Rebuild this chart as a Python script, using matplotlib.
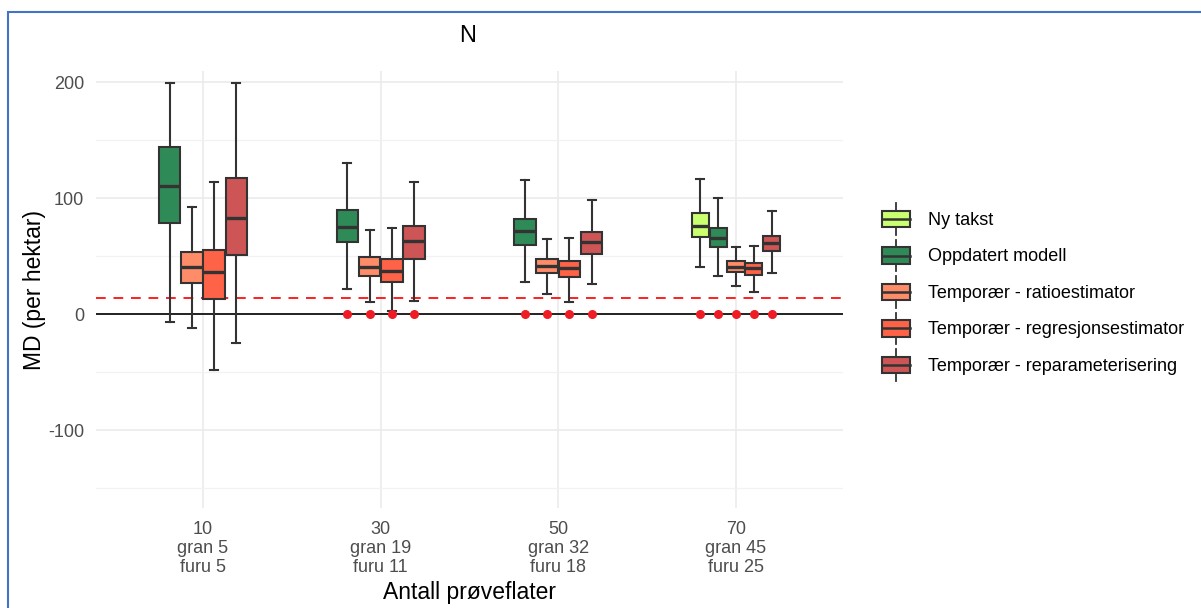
import matplotlib.pyplot as plt
from matplotlib.patches import Rectangle
from matplotlib.lines import Line2D
from matplotlib.legend_handler import HandlerBase

plt.rcParams['font.family'] = ['Liberation Sans', 'DejaVu Sans']
plt.rcParams['axes.unicode_minus'] = False

# x categories
groups = ["10\ngran 5\nfuru 5", "30\ngran 19\nfuru 11",
          "50\ngran 32\nfuru 18", "70\ngran 45\nfuru 25"]

series_names = ["Ny takst", "Oppdatert modell", "Temporær - ratioestimator",
                "Temporær - regresjonsestimator", "Temporær - reparameterisering"]
series_colors = ["#CAFF70", "#2E8B57", "#FF8C69", "#FF6347", "#CD5555"]

# per group: [lower whisker, q1, median, q3, upper whisker]
ny_takst = [None, None, None, [40.5, 66.7, 76.1, 86.8, 116.1]]
oppdatert = [[-6.6, 78.7, 110.3, 143.7, 199.0], [22.1, 62.0, 75.3, 89.4, 129.9],
             [27.9, 60.0, 71.6, 82.2, 115.5], [32.8, 57.5, 65.8, 74.4, 99.7]]
ratio = [[-12.0, 27.0, 40.5, 53.2, 92.5], [10.3, 32.5, 40.8, 49.4, 72.1],
         [17.8, 35.3, 41.4, 47.1, 64.7], [24.1, 35.9, 40.8, 45.7, 58.0]]
regresjon = [[-47.7, 13.2, 36.2, 55.2, 113.8], [3.0, 27.9, 37.1, 47.1, 74.1],
             [10.3, 31.9, 39.7, 46.0, 65.5], [19.5, 33.6, 40.0, 44.0, 58.6]]
reparam = [[-24.7, 51.4, 82.8, 117.0, 199.4], [11.5, 47.1, 62.9, 76.1, 113.8],
           [25.9, 51.7, 61.8, 70.7, 98.3], [35.3, 54.3, 61.2, 67.5, 88.8]]
all_series = [ny_takst, oppdatert, ratio, regresjon, reparam]

# red points at zero shown for these groups
zero_points = [False, True, True, True]
zero_value = 0
ref_line = 13.5

EDGE = "#333333"


class BoxHandler(HandlerBase):
    def create_artists(self, legend, orig_handle, xdescent, ydescent,
                       width, height, fontsize, trans):
        x0, y0 = -xdescent, -ydescent
        cx = x0 + width / 2
        bh = height * 0.52
        by = y0 + (height - bh) / 2
        wl = Line2D([cx, cx], [y0, y0 + height], color=EDGE, lw=1.3, transform=trans)
        box = Rectangle((x0, by), width, bh, facecolor=orig_handle, edgecolor=EDGE,
                        lw=1.5, transform=trans)
        med = Line2D([x0, x0 + width], [by + bh / 2] * 2, color=EDGE, lw=1.8,
                     transform=trans)
        return [wl, box, med]


fig = plt.figure(figsize=(12.01, 6.08), dpi=100)
ax = fig.add_axes([96.4 / 1201, 1 - 508 / 608, 746.2 / 1201, 437 / 608])

total_w = 0.5
for gi in range(len(groups)):
    present = [si for si, s in enumerate(all_series) if s[gi] is not None]
    n = len(present)
    w = total_w / n
    for k, si in enumerate(present):
        lo, q1, med, q3, hi = all_series[si][gi]
        pos = gi + 1 + (k - (n - 1) / 2) * w
        stats = [dict(whislo=lo, q1=q1, med=med, q3=q3, whishi=hi, fliers=[])]
        ax.bxp(stats, positions=[pos], widths=w * 0.97, patch_artist=True,
               capwidths=0.045, showfliers=False, manage_ticks=False,
               boxprops=dict(facecolor=series_colors[si], edgecolor=EDGE, lw=1.5),
               medianprops=dict(color=EDGE, lw=2.4),
               whiskerprops=dict(color=EDGE, lw=1.5),
               capprops=dict(color=EDGE, lw=1.5), zorder=3)
        if zero_points[gi]:
            ax.plot(pos, zero_value, 'o', color="#EE1C25", ms=6.5, mec='none', zorder=5)

ax.axhline(0, color='black', lw=1.2, zorder=2)
ax.axhline(ref_line, color='#FF1F1F', lw=1.4, ls=(0, (5, 4)), zorder=2)

ax.set_xlim(0.4, 4.6)
ax.set_ylim(-167, 209.5)
ax.set_xticks(range(1, len(groups) + 1))
ax.set_xticklabels(groups, linespacing=1.16)
ax.set_yticks([-100, 0, 100, 200])
ax.set_yticks([-150, -50, 50, 150], minor=True)
ax.grid(True, which='major', color='#EBEBEB', lw=1.2, zorder=0)
ax.grid(True, which='minor', axis='y', color='#F2F2F2', lw=0.9, zorder=0)
ax.set_axisbelow(True)
for sp in ax.spines.values():
    sp.set_visible(False)
ax.tick_params(axis='both', which='both', length=0, labelsize=13, labelcolor='#4D4D4D')
ax.tick_params(axis='x', pad=9)
ax.tick_params(axis='y', pad=9)

ax.set_xlabel("Antall prøveflater", fontsize=16.5)
ax.set_ylabel("MD (per hektar)", fontsize=16.5)
ax.xaxis.set_label_coords(0.5, (508 - 592) / 437)
ax.xaxis.label.set_va('center')
ax.yaxis.set_label_coords((35 - 96.4) / 746.2, 0.5)
ax.yaxis.label.set_va('center')

fig.text(468 / 1201, 1 - 36 / 608, "N", fontsize=17, ha='center', va='center')

leg = fig.legend(series_colors, series_names, handler_map={str: BoxHandler()},
                 loc='center left', bbox_to_anchor=(882 / 1201, 1 - 292 / 608),
                 frameon=False, fontsize=13, borderpad=0, borderaxespad=0,
                 handlelength=1.55, handleheight=2.3, handletextpad=1.0,
                 labelspacing=0.28)

# screenshot frame
fig.add_artist(Rectangle((7.5 / 1201, -0.1), 1.2, 1 - 12 / 608 + 0.1, transform=fig.transFigure,
                         fill=False, edgecolor='#4472C4', lw=1.5))

fig.savefig("out.png", dpi=100)
